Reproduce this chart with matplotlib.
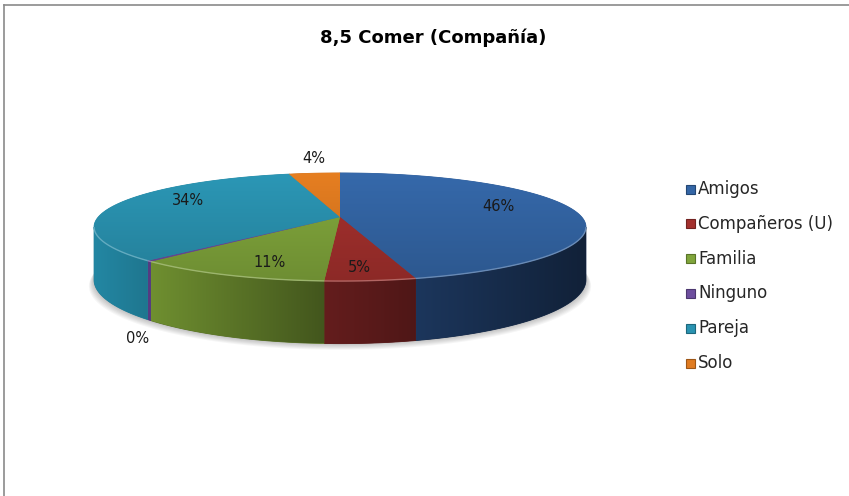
import numpy as np
import matplotlib
matplotlib.use("Agg")
import matplotlib.pyplot as plt
from matplotlib.patches import Polygon, Rectangle
from matplotlib.colors import to_rgb

# ---------------- data ----------------
categories = ["Amigos", "Compañeros (U)", "Familia", "Ninguno", "Pareja", "Solo"]
values = [46, 5, 11, 0.3, 34, 4]
chart_title = "8,5 Comer (Compañía)"

top_colors = ["#3466A6", "#A3302D", "#80A53B", "#6D4E9E", "#2A93B1", "#E07B20"]
side_colors = ["#1C365C", "#641D1D", "#6F8F30", "#563C82", "#2387A3", "#A4561A"]

# ---------------- figure ----------------
W, H = 849, 496
fig = plt.figure(figsize=(W / 100, H / 100), dpi=100)
ax = fig.add_axes([0, 0, 1, 1])
ax.axis("off")
plt.rcParams["font.family"] = ["DejaVu Sans"]

# perspective 3D-pie geometry (pixel space)
CX, CY = 340.0, 217.0
A, B, K, DZ = 241.7, 52.2, 0.185, 51.0


def proj(theta_deg, r=1.0, drop=0.0):
    t = np.radians(theta_deg)
    X = r * np.sin(t)
    Y = r * np.cos(t)
    s = 1.0 / (1.0 + K * Y)
    return CX + A * X * s, CY - B * Y * s + drop * s


def arc(t0, t1, r=1.0, drop=0.0):
    n = max(2, int(abs(t1 - t0) / 0.25) + 2)
    th = np.linspace(t0, t1, n)
    x, y = proj(th, r, drop)
    return np.column_stack([x, y])


def rgb(c, f=1.0):
    return np.clip(np.array(to_rgb(c)) * f, 0, 1)


def grad_fill(xy, c_start, c_end, horizontal, extent=None, z=2):
    mid = (c_start + c_end) / 2
    base = Polygon(xy, closed=True, facecolor=mid, edgecolor=mid, lw=0.6, zorder=z)
    ax.add_patch(base)
    if extent is None:
        x0, x1 = xy[:, 0].min(), xy[:, 0].max()
        y0, y1 = xy[:, 1].min(), xy[:, 1].max()
    else:
        x0, x1, y0, y1 = extent
    t = np.linspace(0, 1, 128)
    cols = c_start[None, :] * (1 - t)[:, None] + c_end[None, :] * t[:, None]
    img = cols[None, :, :] if horizontal else cols[:, None, :]
    im = ax.imshow(img, extent=(x0, x1, y1, y0), origin="upper", aspect="auto",
                   interpolation="bilinear", zorder=z + 0.01)
    im.set_clip_path(base)


total = float(sum(values))
fracs = np.array(values) / total
ends = np.cumsum(fracs) * 360.0
starts = ends - fracs * 360.0

# soft shadow under the pie
bottom = arc(0, 360, drop=DZ)
for i in range(1, 8):
    pts = bottom.copy()
    pts[:, 0] = CX + (pts[:, 0] - CX) * (1 + 0.003 * i)
    pts[:, 1] = pts[:, 1] + i * 0.9
    ax.add_patch(Polygon(pts, closed=True, facecolor=(0, 0, 0, 0.035),
                         edgecolor="none", zorder=1))

# visible side range
th_r = np.degrees(np.arccos(-K))
th_l = 360.0 - th_r

for i in range(len(values)):
    a0 = max(starts[i], th_r)
    a1 = min(ends[i], th_l)
    if a1 > a0:
        top = arc(a0, a1)
        bot = arc(a1, a0, drop=DZ)
        poly = np.vstack([top, bot])
        width = poly[:, 0].max() - poly[:, 0].min()
        c_left = rgb(side_colors[i])
        c_right = rgb(side_colors[i], max(0.5, 1 - 0.0023 * width))
        grad_fill(poly, c_left, c_right, horizontal=True, z=2)

# top faces
ext = (CX - A * 1.05, CX + A * 1.05, CY - B / (1 + K), CY + B / (1 - K))
for i in range(len(values)):
    pts = np.vstack([[CX, CY], arc(starts[i], ends[i])])
    grad_fill(pts, rgb(top_colors[i], 1.03), rgb(top_colors[i], 0.86),
              horizontal=False, extent=ext, z=4)

# rim highlight on the front edge
for i in range(len(values)):
    a0 = max(starts[i], th_r)
    a1 = min(ends[i], th_l)
    if a1 > a0:
        rim = arc(a0, a1)
        hl = rgb(top_colors[i]) * 0.5 + 0.5
        ax.plot(rim[:, 0], rim[:, 1], color=hl, lw=1.0, alpha=0.55, zorder=5,
                solid_capstyle="butt")

# data labels
for i in range(len(values)):
    pct = fracs[i] * 100
    mid = (starts[i] + ends[i]) / 2
    txt = f"{pct:.0f}%"
    if round(pct) >= 5:
        r = 0.67
        x, y = proj(mid, r)
        y = y - 4 - 22 * r * np.cos(np.radians(mid))
    else:
        x, _ = proj(mid, 1.05)
        if np.cos(np.radians(mid)) > 0:
            _, y = proj(mid, 1.0)
            y -= 15
        else:
            _, y = proj(mid, 1.0, drop=DZ)
            y += 18
    ax.text(x, y, txt, ha="center", va="center", fontsize=10.5,
            color="#1a1a1a", zorder=8)

# legend
for i, cat in enumerate(categories):
    y = 189 + i * 34.8
    ax.add_patch(Rectangle((686, y - 4.5), 9, 9, facecolor=top_colors[i],
                           edgecolor=rgb(top_colors[i], 0.7), lw=0.8, zorder=6))
    ax.text(698, y, cat, ha="left", va="center", fontsize=12, color="#262626",
            zorder=6)

# title
ax.text(433, 38, chart_title, ha="center", va="center", fontsize=13,
        fontweight="bold", color="#000000")

# chart frame (top & left edges visible)
ax.plot([4.5, 4.5], [H + 5, 4.5], color="#8a8a8a", lw=1.2, zorder=9)
ax.plot([4.5, W + 5], [4.5, 4.5], color="#8a8a8a", lw=1.2, zorder=9)

ax.set_xlim(0, W)
ax.set_ylim(H, 0)
fig.savefig("out.png", dpi=100, facecolor="white")
